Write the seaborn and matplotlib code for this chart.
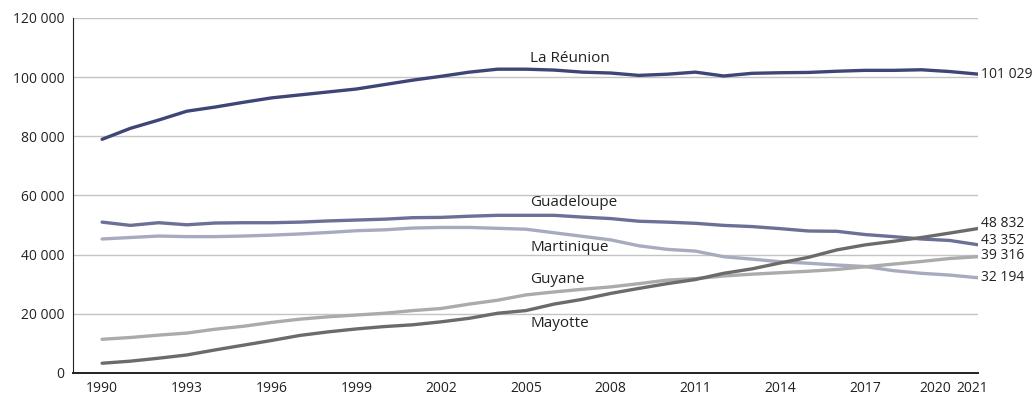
import numpy as np
import pandas as pd
import matplotlib
matplotlib.use("Agg")
import matplotlib.pyplot as plt
import matplotlib.transforms as mtransforms
import seaborn as sns
from matplotlib.ticker import FuncFormatter, MultipleLocator

years = list(range(1990, 2022))
reunion = [79000, 82700, 85500, 88500, 89900, 91500, 93000, 94000, 95000, 96000,
           97500, 99000, 100300, 101700, 102700, 102700, 102400, 101700, 101400, 100600,
           101000, 101700, 100400, 101300, 101500, 101600, 102000, 102300, 102300, 102500,
           101900, 101029]
guadeloupe = [51000, 49900, 50800, 50100, 50700, 50800, 50800, 51000, 51400, 51700,
              52000, 52500, 52600, 53000, 53300, 53300, 53300, 52700, 52200, 51300,
              51000, 50600, 49900, 49500, 48800, 48000, 47900, 46800, 46100, 45300,
              44800, 43352]
martinique = [45300, 45800, 46300, 46100, 46100, 46300, 46600, 47000, 47500, 48100,
              48400, 49000, 49200, 49200, 48900, 48600, 47400, 46200, 45000, 43000,
              41800, 41200, 39300, 38500, 37600, 37100, 36500, 36000, 34600, 33700,
              33100, 32194]
guyane = [11400, 12000, 12800, 13500, 14800, 15800, 17100, 18200, 19000, 19600,
          20200, 21100, 21800, 23300, 24600, 26400, 27400, 28300, 29100, 30200,
          31400, 31900, 32800, 33400, 33900, 34400, 35000, 35900, 36800, 37700,
          38700, 39316]
mayotte = [3300, 4000, 5000, 6100, 7800, 9400, 11000, 12700, 13900, 14900,
           15700, 16300, 17300, 18500, 20200, 21100, 23300, 24900, 26900, 28600,
           30200, 31600, 33700, 35200, 37200, 39100, 41600, 43300, 44500, 45800,
           47300, 48832]

series = {"La Réunion": reunion, "Guadeloupe": guadeloupe, "Martinique": martinique,
          "Guyane": guyane, "Mayotte": mayotte}
colors = {"La Réunion": "#3f4677", "Guadeloupe": "#6c7096", "Martinique": "#a8abbf",
          "Guyane": "#ababab", "Mayotte": "#6b6b6b"}

df = pd.DataFrame([{"year": y, "zone": k, "value": v}
                   for k, vals in series.items() for y, v in zip(years, vals)])

sns.set_style("white")
plt.rcParams['font.family'] = ['Open Sans', 'DejaVu Sans']
fs = 10

fig = plt.figure(figsize=(10.34, 4.0), dpi=100)
ax = fig.add_axes([0.0706, 0.0675, 0.8752, 0.8875])

sns.lineplot(data=df, x="year", y="value", hue="zone", palette=colors,
             linewidth=2.4, legend=False, ax=ax)

ax.set_xlim(1988.97, 2021)
ax.set_ylim(0, 120000)
ax.yaxis.set_major_locator(MultipleLocator(20000))
ax.yaxis.set_major_formatter(FuncFormatter(lambda v, p: f"{int(v):,}".replace(",", " ")))
ax.set_xticks(years)
ax.set_xticklabels([str(y) if (y - 1990) % 3 == 0 or y == 2021 else "" for y in years])
ax.grid(axis="y", color="#c4c4c4", linewidth=1)
ax.set_axisbelow(True)
ax.set_xlabel("")
ax.set_ylabel("")
for s in ["top", "right"]:
    ax.spines[s].set_visible(False)
ax.spines["left"].set_color("#222222")
ax.spines["bottom"].set_color("#222222")
ax.spines["bottom"].set_linewidth(1.4)
ax.tick_params(axis="x", direction="out", length=5, width=1, color="#222222",
               labelsize=fs, pad=1, labelcolor="#222222")
ax.tick_params(axis="y", length=0, labelsize=fs, pad=6, labelcolor="#222222")

# nudge the last two year labels apart, as in the original
labels = ax.get_xticklabels()
labels[-2].set_horizontalalignment("right")
labels[-2].set_transform(labels[-2].get_transform() +
                         mtransforms.ScaledTranslation(0.01, 0, fig.dpi_scale_trans))
labels[-1].set_transform(labels[-1].get_transform() +
                         mtransforms.ScaledTranslation(-0.06, 0, fig.dpi_scale_trans))

# labels inside the chart
inner = {"La Réunion": 106400, "Guadeloupe": 57600, "Martinique": 42400,
         "Guyane": 31500, "Mayotte": 16900}
for k, yv in inner.items():
    ax.text(2005.15, yv, k, fontsize=11, color="#222222", va="center", ha="left")

# end labels
ends = {"La Réunion": 101029, "Mayotte": 50400, "Guadeloupe": 44700,
        "Guyane": 39600, "Martinique": 32400}
for k, yv in ends.items():
    val = series[k][-1]
    ax.text(2021.1, yv, f"{val:,}".replace(",", " "), fontsize=fs,
            color="#222222", va="center", ha="left", clip_on=False)

fig.savefig("out.png", dpi=100)
